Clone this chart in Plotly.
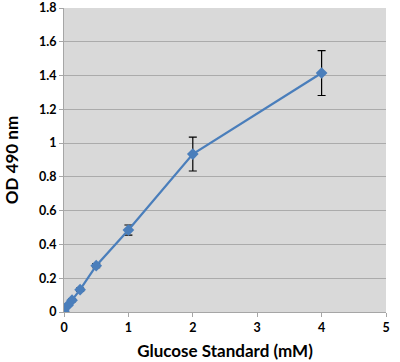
import plotly.graph_objects as go

conc = [0, 0.0625, 0.125, 0.25, 0.5, 1, 2, 4]
od = [0.005, 0.04, 0.07, 0.132, 0.274, 0.485, 0.935, 1.415]
err = [0.005, 0.005, 0.008, 0.01, 0.012, 0.03, 0.1, 0.133]

fig = go.Figure()
fig.add_trace(go.Scatter(
    x=conc, y=od, mode="lines+markers",
    line=dict(color="#4a7ebb", width=2.25),
    marker=dict(symbol="diamond", size=9, color="#4a7ebb"),
    error_y=dict(type="data", array=err, visible=True, color="black", thickness=1.2, width=4),
    showlegend=False,
))

font_family = "Lato, 'Open Sans', sans-serif"
fig.update_layout(
    width=400, height=362,
    margin=dict(l=64, r=14, t=8, b=50),
    paper_bgcolor="white", plot_bgcolor="#d9d9d9",
    font=dict(family=font_family, color="black"),
    xaxis=dict(range=[0, 5], tickvals=[0, 1, 2, 3, 4, 5], showgrid=False, zeroline=False,
               automargin=False,
               ticks="outside", ticklen=4, tickcolor="#a6a6a6",
               showline=True, linecolor="#a6a6a6", linewidth=1,
               tickfont=dict(size=12.5, family=font_family, weight="bold"),
               title=dict(text="<b>Glucose Standard (mM)</b>", font=dict(size=17), standoff=11)),
    yaxis=dict(range=[0, 1.8], tickvals=[0, 0.2, 0.4, 0.6, 0.8, 1, 1.2, 1.4, 1.6, 1.8],
               ticktext=["0", "0.2", "0.4", "0.6", "0.8", "1", "1.2", "1.4", "1.6", "1.8"],
               showgrid=True, gridcolor="#ababab", gridwidth=1.3, zeroline=False,
               automargin=False,
               ticks="outside", ticklen=4, tickcolor="#a6a6a6",
               showline=True, linecolor="#a6a6a6", linewidth=1,
               tickfont=dict(size=12.5, family=font_family, weight="bold"),
               title=dict(text="<b>OD 490 nm</b>", font=dict(size=17), standoff=16)),
)

fig.write_html("out.html", config={"displayModeBar": False},
               post_script="document.body.style.margin='0';")
